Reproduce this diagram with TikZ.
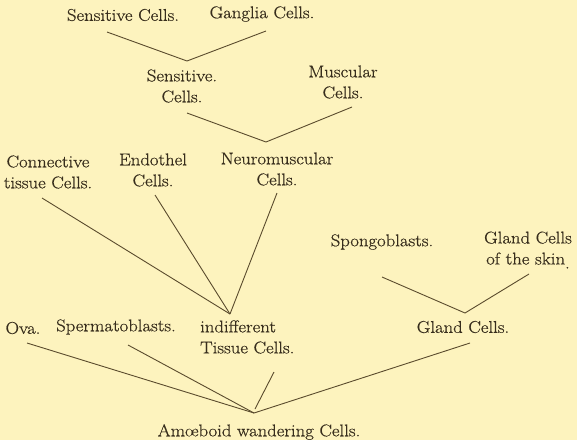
\documentclass[tikz,border=0pt]{standalone}
\usepackage{fontspec}
\setmainfont{Latin Modern Roman}[FakeStretch=1.1, FakeBold=0.6]
\definecolor{paper}{RGB}{253,243,190}
\definecolor{ink}{RGB}{55,45,28}
\definecolor{linec}{RGB}{90,75,45}
\begin{document}
\begin{tikzpicture}[x=1pt,y=-1pt,
  lbl/.style={inner sep=0pt, align=center, text=ink, font=\fontsize{17}{21}\selectfont},
  conn/.style={draw=linec, line width=0.9pt}]
\fill[paper] (0,0) rectangle (577,440);
\useasboundingbox (0,0) rectangle (577,440);
% labels
\node[lbl] (sc1) at (123,15) {Sensitive Cells.};
\node[lbl] (gc1) at (262,14) {Ganglia Cells.};
\node[lbl] (sc2) at (182,86) {Sensitive.\\Cells.};
\node[lbl] (mc) at (343,82) {Muscular\\Cells.};
\node[lbl] (ct) at (48,172) {Connective\\tissue Cells.};
\node[lbl] (en) at (153,170) {Endothel\\Cells.};
\node[lbl] (nm) at (277,169) {Neuromuscular\\Cells.};
\node[lbl] (sp) at (382,242) {Spongoblasts.};
\node[lbl] (gs) at (528,250) {Gland Cells\\of the skin\raisebox{-4pt}{.}};
\node[lbl] (ova) at (23,328) {Ova.};
\node[lbl] (spm) at (116,327) {Spermatoblasts.};
\node[lbl, align=left, anchor=west] (it) at (200,337) {indifferent\\Tissue Cells.};
\node[lbl] (gl) at (463,327) {Gland Cells.};
\node[lbl] (am) at (259,432) {Amœboid wandering Cells.};
% junctions
\coordinate (j1) at (187,61);
\coordinate (j2) at (266,142);
\coordinate (j3) at (230,314);
\coordinate (j4) at (465,313);
\coordinate (j5) at (254,413);
% line ends
\coordinate (e1) at (107,32);
\coordinate (e2) at (266,31);
\coordinate (e3) at (187,113);
\coordinate (e4) at (352,107);
\coordinate (e5) at (42,198);
\coordinate (e6) at (155,195);
\coordinate (e7) at (277,193);
\coordinate (e8) at (382,277);
\coordinate (e9) at (529,274);
\coordinate (e10) at (27,343);
\coordinate (e11) at (128,345);
\coordinate (e12) at (274,372);
\coordinate (e12b) at (255,409);
\coordinate (e13) at (470,343);
% connectors
\draw[conn] (e1) -- (j1) -- (e2);
\draw[conn] (e3) -- (j2) -- (e4);
\draw[conn] (e5) -- (j3);
\draw[conn] (e6) -- (j3);
\draw[conn] (e7) -- (j3);
\draw[conn] (e8) -- (j4) -- (e9);
\draw[conn] (e10) -- (j5);
\draw[conn] (e11) -- (j5);
\draw[conn] (e12) -- (e12b);
\draw[conn] (e13) -- (j5);
\end{tikzpicture}
\end{document}
